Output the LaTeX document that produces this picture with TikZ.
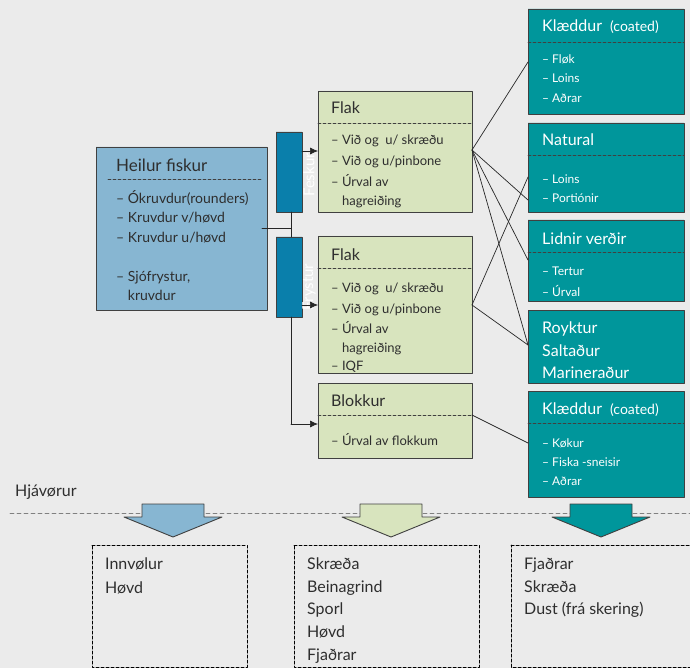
\documentclass[tikz,border=0pt]{standalone}
\usepackage{fontspec}
\setmainfont{Lato}
\usepackage{tkz-euclide}
\usetikzlibrary{arrows.meta}

\definecolor{backgray}{HTML}{EBEBEB}
\definecolor{fiskblue}{HTML}{87B6D2}
\definecolor{stagblue}{HTML}{0A7FAB}
\definecolor{flakgreen}{HTML}{D8E4BE}
\definecolor{vorateal}{HTML}{00969B}
\definecolor{edgegray}{HTML}{404040}
\definecolor{textgray}{HTML}{2E2E2E}

\tikzset{
  edge/.style={draw=edgegray,line width=0.9pt},
  splitline/.style={edgegray,dash pattern=on 3pt off 2pt,line width=0.7pt},
  link/.style={black!85,line width=0.7pt},
  feed/.style={black!85,line width=0.7pt,-{Latex[length=8pt,width=7pt]}},
  txt/.style={anchor=base west,inner sep=0pt,text=textgray},
  headtxt/.style={txt,font=\fontsize{17}{17}\selectfont},
  titletxt/.style={txt,font=\fontsize{16}{16}\selectfont},
  itemtxt/.style={txt,font=\fontsize{14}{14}\selectfont},
  flaktxt/.style={txt,font=\fontsize{13}{13}\selectfont},
  whitetitle/.style={titletxt,text=white},
  whiteitem/.style={txt,text=white,font=\fontsize{12}{12}\selectfont},
  sidetxt/.style={rotate=90,inner sep=0pt,text=white,font=\fontsize{15}{15}\selectfont},
}

\begin{document}
\begin{tikzpicture}[x=1pt,y=-1pt]
  \useasboundingbox (0,0) rectangle (690,668);
  \fill[backgray] (0,0) rectangle (690,668);

  % raw fish
  \tkzDefPoints{96/147/H1,267/147/H2,267/310/H3,96/310/H4}
  \tkzDrawPolygon[edge,fill=fiskblue](H1,H2,H3,H4)
  \tkzDefPoints{108/179/HS1,262/179/HS2}
  \tkzDrawSegment[splitline](HS1,HS2)

  % fresh / frozen
  \tkzDefPoints{276/132/R1,302/132/R2,302/212/R3,276/212/R4}
  \tkzDrawPolygon[edge,fill=stagblue](R1,R2,R3,R4)
  \tkzDefPoints{276/237/S1,302/237/S2,302/317/S3,276/317/S4}
  \tkzDrawPolygon[edge,fill=stagblue](S1,S2,S3,S4)
  \node[sidetxt] (fe) at (309,175) {Feskur};
  \node[sidetxt] (fr) at (309,287) {Frystur};

  % fillets and blocks
  \tkzDefPoints{318/91/F1,472/91/F2,472/212/F3,318/212/F4}
  \tkzDrawPolygon[edge,fill=flakgreen](F1,F2,F3,F4)
  \tkzDefPoints{318/236/G1,472/236/G2,472/373/G3,318/373/G4}
  \tkzDrawPolygon[edge,fill=flakgreen](G1,G2,G3,G4)
  \tkzDefPoints{318/383/B1,472/383/B2,472/458/B3,318/458/B4}
  \tkzDrawPolygon[edge,fill=flakgreen](B1,B2,B3,B4)
  \tkzDefPoints{318/123/FS1,472/123/FS2,318/268/GS1,472/268/GS2,318/415/BS1,472/415/BS2}
  \tkzDrawSegment[splitline](FS1,FS2)
  \tkzDrawSegment[splitline](GS1,GS2)
  \tkzDrawSegment[splitline](BS1,BS2)

  % products
  \tkzDefPoints{528/9/T1,684/9/T2,684/114/T3,528/114/T4}
  \tkzDrawPolygon[edge,fill=vorateal](T1,T2,T3,T4)
  \tkzDefPoints{528/123/N1,684/123/N2,684/212/N3,528/212/N4}
  \tkzDrawPolygon[edge,fill=vorateal](N1,N2,N3,N4)
  \tkzDefPoints{528/220/L1,684/220/L2,684/301/L3,528/301/L4}
  \tkzDrawPolygon[edge,fill=vorateal](L1,L2,L3,L4)
  \tkzDefPoints{528/310/Y1,684/310/Y2,684/383/Y3,528/383/Y4}
  \tkzDrawPolygon[edge,fill=vorateal](Y1,Y2,Y3,Y4)
  \tkzDefPoints{528/391/K1,684/391/K2,684/497/K3,528/497/K4}
  \tkzDrawPolygon[edge,fill=vorateal](K1,K2,K3,K4)
  \tkzDefPoints{528/42/TS1,684/42/TS2,528/155/NS1,684/155/NS2,528/252/LS1,684/252/LS2,528/423/KS1,684/423/KS2}
  \tkzDrawSegment[splitline,black!75](TS1,TS2)
  \tkzDrawSegment[splitline,black!75](NS1,NS2)
  \tkzDrawSegment[splitline,black!75](LS1,LS2)
  \tkzDrawSegment[splitline,black!75](KS1,KS2)

  % links
  \tkzDefPoints{262/228/J1,291/228/J2,291/212/J3,291/237/J4,291/317/J5,291/424/J6,318/424/J7}
  \tkzDrawSegment[link](J1,J2)
  \tkzDrawSegment[link](J3,J4)
  \tkzDrawSegment[link](J5,J6)
  \tkzDrawSegment[feed](J6,J7)
  \tkzDefPoints{302/151/P1,318/151/Q1,302/305/P2,318/305/Q2}
  \tkzDrawSegment[feed](P1,Q1)
  \tkzDrawSegment[feed](P2,Q2)
  \tkzDefPoints{472/150/C1,472/305/C2,472/415/C3}
  \tkzDefPoints{528/62/D1,528/200/D2,528/260/D3,528/345/D4,528/177/D5,528/443/D6}
  \tkzDrawSegment[link](C1,D1)
  \tkzDrawSegment[link](C1,D2)
  \tkzDrawSegment[link](C1,D3)
  \tkzDrawSegment[link](C1,D4)
  \tkzDrawSegment[link](C2,D5)
  \tkzDrawSegment[link](C2,D4)
  \tkzDrawSegment[link](C3,D6)

  % by-products
  \node[titletxt] (hj) at (15,496) {Hjávørur};
  \tkzDefPoints{10/513/V1,690/513/V2}
  \tkzDrawSegment[gray,dash pattern=on 4pt off 3pt,line width=0.8pt](V1,V2)
  \tkzDefPoints{142/504/A1,204/504/A2,204/517/A3,222/517/A4,173/537/A5,124/517/A6,142/517/A7}
  \tkzDrawPolygon[edge,fill=fiskblue](A1,A2,A3,A4,A5,A6,A7)
  \tkzDefPoints{360/504/A8,422/504/A9,422/517/A10,440/517/A11,391/537/A12,342/517/A13,360/517/A14}
  \tkzDrawPolygon[edge,fill=flakgreen](A8,A9,A10,A11,A12,A13,A14)
  \tkzDefPoints{570/504/A15,632/504/A16,632/517/A17,650/517/A18,601/537/A19,552/517/A20,570/517/A21}
  \tkzDrawPolygon[edge,fill=vorateal](A15,A16,A17,A18,A19,A20,A21)
  \tkzDefPoints{92/545/E1,247/545/E2,247/667/E3,92/667/E4}
  \tkzDrawPolygon[black,line width=1pt,dash pattern=on 3pt off 2pt](E1,E2,E3,E4)
  \tkzDefPoints{294/545/E5,479/545/E6,479/667/E7,294/667/E8}
  \tkzDrawPolygon[black,line width=1pt,dash pattern=on 3pt off 2pt](E5,E6,E7,E8)
  \tkzDefPoints{511/545/E9,700/545/E10,700/667/E11,511/667/E12}
  \tkzDrawPolygon[black,line width=1pt,dash pattern=on 3pt off 2pt](E9,E10,E11,E12)

  % texts
  \node[headtxt] (hf0) at (116,172) {Heilur fiskur};
  \node[itemtxt] (hf1) at (116,204) {– Ókruvdur(rounders)};
  \node[itemtxt] (hf2) at (116,223) {– Kruvdur v/høvd};
  \node[itemtxt] (hf3) at (116,243) {– Kruvdur u/høvd};
  \node[itemtxt] (hf4) at (116,281) {– Sjófrystur,};
  \node[itemtxt] (hf5) at (116,300) {\hphantom{– }kruvdur};

  \node[titletxt] (fa0) at (331,114) {Flak};
  \node[flaktxt] (fa1) at (331,145) {– Við og\enspace u/ skræðu};
  \node[flaktxt] (fa2) at (331,166) {– Við og u/pinbone};
  \node[flaktxt] (fa3) at (331,187) {– Úrval av};
  \node[flaktxt] (fa4) at (331,206) {\hphantom{– }hagreiðing};
  \node[titletxt] (fb0) at (331,261) {Flak};
  \node[flaktxt] (fb1) at (331,292) {– Við og\enspace u/ skræðu};
  \node[flaktxt] (fb2) at (331,313) {– Við og u/pinbone};
  \node[flaktxt] (fb3) at (331,333) {– Úrval av};
  \node[flaktxt] (fb4) at (331,352) {\hphantom{– }hagreiðing};
  \node[flaktxt] (fb5) at (331,370) {– IQF};
  \node[titletxt] (bk0) at (331,406) {Blokkur};
  \node[flaktxt] (bk1) at (331,445) {– Úrval av flokkum};

  \node[whitetitle] (ka0) at (542,32) {Klæddur\hspace{8pt}{\fontsize{14}{14}\selectfont(coated)}};
  \node[whiteitem] (ka1) at (542,64) {– Fløk};
  \node[whiteitem] (ka2) at (542,83) {– Loins};
  \node[whiteitem] (ka3) at (542,103) {– Aðrar};
  \node[whitetitle] (na0) at (542,146) {Natural};
  \node[whiteitem] (na1) at (542,184) {– Loins};
  \node[whiteitem] (na2) at (542,203) {– Portiónir};
  \node[whitetitle] (li0) at (542,244) {Lidnir verðir};
  \node[whiteitem] (li1) at (542,276) {– Tertur};
  \node[whiteitem] (li2) at (542,296) {– Úrval};
  \node[whitetitle] (ro0) at (542,333) {Royktur};
  \node[whitetitle] (ro1) at (542,356) {Saltaður};
  \node[whitetitle] (ro2) at (542,378) {Marineraður};
  \node[whitetitle] (kb0) at (542,414) {Klæddur\hspace{8pt}{\fontsize{14}{14}\selectfont(coated)}};
  \node[whiteitem] (kb1) at (542,447) {– Køkur};
  \node[whiteitem] (kb2) at (542,466) {– Fiska -sneisir};
  \node[whiteitem] (kb3) at (542,485) {– Aðrar};

  \node[titletxt] (iv1) at (105,569) {Innvølur};
  \node[titletxt] (iv2) at (105,593) {Høvd};
  \node[titletxt] (sk1) at (307,569) {Skræða};
  \node[titletxt] (sk2) at (307,592) {Beinagrind};
  \node[titletxt] (sk3) at (307,614) {Sporl};
  \node[titletxt] (sk4) at (307,637) {Høvd};
  \node[titletxt] (sk5) at (307,660) {Fjaðrar};
  \node[titletxt] (fj1) at (524,569) {Fjaðrar};
  \node[titletxt] (fj2) at (524,592) {Skræða};
  \node[titletxt] (fj3) at (524,614) {Dust (frá skering)};
\end{tikzpicture}
\end{document}
